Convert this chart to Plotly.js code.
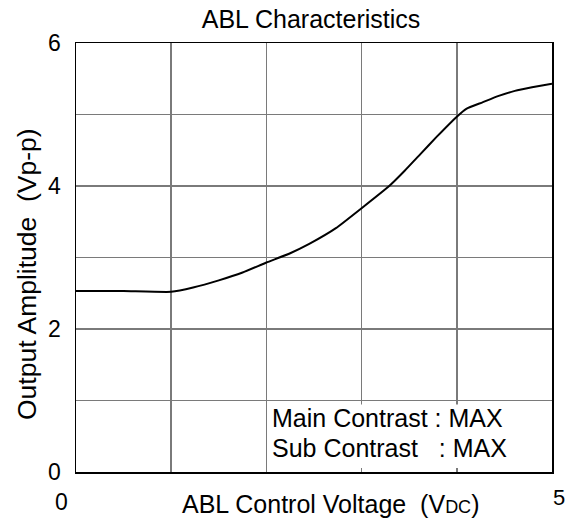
<!DOCTYPE html>
<html>
<head>
<meta charset="utf-8">
<script src="https://cdn.plot.ly/plotly-3.0.1.min.js"></script>
<style>html,body{margin:0;padding:0;background:#fff;}</style>
</head>
<body>
<div id="chart" style="width:566px;height:518px;"></div>
<script>
// ABL control voltage (V DC)
const ablVoltage = [0, 0.5, 1.0, 1.23, 1.5, 1.75, 2.0, 2.25, 2.45, 2.73, 3.0, 3.29, 3.45, 3.62, 3.79, 4.0, 4.1, 4.27, 4.44, 4.61, 4.79, 5.0];
// Output amplitude (Vp-p)
const outputAmplitude = [2.53, 2.53, 2.52, 2.58, 2.68, 2.79, 2.93, 3.06, 3.19, 3.41, 3.69, 4.0, 4.21, 4.45, 4.69, 4.97, 5.08, 5.17, 5.26, 5.33, 5.38, 5.43];
const xTickVals = [0, 5];
const xTickText = ['0', '5'];
const yTickVals = [0, 2, 4, 6];
const noteLines = ['Main Contrast : MAX', 'Sub Contrast\u00a0\u00a0\u00a0: MAX'];

const FONT = 'Arial, "Liberation Sans", sans-serif';
const TXT = 25;
const TICK = 23;

const trace = {
  x: ablVoltage, y: outputAmplitude, type: 'scatter', mode: 'lines',
  line: {color: '#000', width: 2, shape: 'spline', smoothing: 0.4}, hoverinfo: 'skip'
};

const layout = {
  width: 566, height: 518,
  margin: {l: 76, r: 14, t: 43, b: 46},
  paper_bgcolor: '#fff', plot_bgcolor: '#fff',
  showlegend: false,
  font: {family: FONT, color: '#000', size: TXT},
  title: {text: 'ABL Characteristics', font: {family: FONT, size: TXT, color: '#000'},
          x: (311-76)/476, xref: 'paper', xanchor: 'center', y: 1 - 19/518, yref: 'container', yanchor: 'middle'},
  xaxis: {
    range: [0, 5], tickvals: xTickVals, showticklabels: false,
    showgrid: false, zeroline: false, ticks: '',
    minor: {dtick: 1, showgrid: true, gridcolor: '#7a7a7a', gridwidth: 1.5},
    showline: true, linecolor: '#000', linewidth: 1.5, mirror: true, fixedrange: true
  },
  yaxis: {
    range: [0, 6], tickvals: yTickVals, ticks: '', ticklabelstandoff: 9,
    tickfont: {family: FONT, size: TICK, color: '#000'},
    showgrid: false, zeroline: false,
    minor: {dtick: 1, showgrid: true, gridcolor: '#7a7a7a', gridwidth: 1.5},
    showline: true, linecolor: '#000', linewidth: 1.5, mirror: true, fixedrange: true
  },
  shapes: [
    {type: 'rect', xref: 'x', yref: 'y', x0: 2.02, x1: 4.98, y0: 0.055, y1: 0.945,
     fillcolor: '#fff', line: {width: 0}, layer: 'between'}
  ],
  annotations: [
    {xref: 'x', yref: 'paper', x: xTickVals[0], y: 0, yshift: -30, xshift: -15, text: xTickText[0],
     showarrow: false, font: {family: FONT, size: TICK}, xanchor: 'center', yanchor: 'middle'},
    {xref: 'x', yref: 'paper', x: xTickVals[1], y: 0, yshift: -25, xshift: 7, text: xTickText[1],
     showarrow: false, font: {family: FONT, size: TICK - 1}, xanchor: 'center', yanchor: 'middle'},
    {xref: 'paper', yref: 'paper', x: (330-76)/476, y: 0, yshift: -32,
     text: 'ABL Control Voltage\u00a0\u00a0(V<span style="font-size:18px">DC</span>)',
     showarrow: false, font: {family: FONT, size: TXT}, xanchor: 'center', yanchor: 'middle'},
    {xref: 'paper', yref: 'paper', x: 0, xshift: -49, y: (472-274)/429,
     text: 'Output Amplitude\u00a0\u00a0(Vp-p)', textangle: -90,
     showarrow: false, font: {family: FONT, size: 26.5}, xanchor: 'center', yanchor: 'middle'},
    {xref: 'x', yref: 'paper', x: 2, xshift: 4, y: (472-418)/429, text: noteLines[0],
     showarrow: false, font: {family: FONT, size: TXT}, xanchor: 'left', yanchor: 'middle'},
    {xref: 'x', yref: 'paper', x: 2, xshift: 4, y: (472-448)/429, text: noteLines[1],
     showarrow: false, font: {family: FONT, size: TXT}, xanchor: 'left', yanchor: 'middle'}
  ]
};

Plotly.newPlot('chart', [trace], layout, {displayModeBar: false, staticPlot: true});
</script>
</body>
</html>
